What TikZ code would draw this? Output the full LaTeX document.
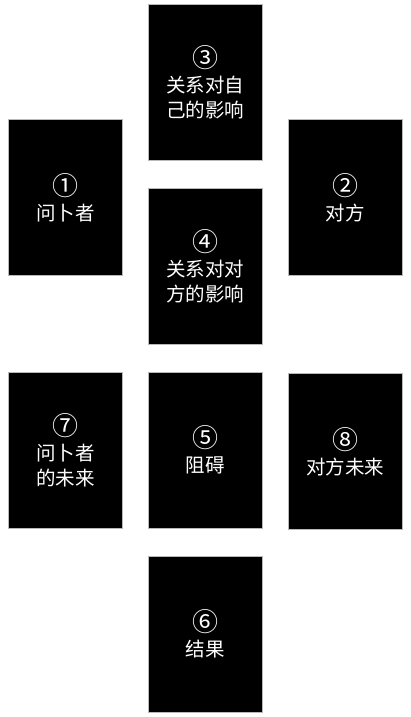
\documentclass[tikz,border=0pt]{standalone}
\usepackage{fontspec}
\setmainfont{Noto Sans CJK SC}
\newcommand{\cnum}[1]{\raisebox{0pt}{\fontsize{26}{25}\selectfont #1}}
\begin{document}
\begin{tikzpicture}[x=1pt,y=1pt,
  card/.style={fill=black, draw=gray!55, line width=0.6pt, text=white,
    minimum width=114pt, minimum height=156pt, inner sep=0pt,
    align=center, font=\fontsize{19.5}{25}\selectfont}]
\useasboundingbox (0,0) rectangle (410,717);
\fill[white] (0,0) rectangle (410,717);
\node[card] (c3) at (205.3,634.7) {\cnum{③}\\关系对自\\己的影响};
\node[card] (c1) at (65.7,519.3) {\cnum{①}\\问卜者};
\node[card] (c2) at (345.3,519.3) {\cnum{②}\\对方};
\node[card] (c4) at (205.3,450.7) {\cnum{④}\\关系对对\\方的影响};
\node[card] (c7) at (65.7,266.8) {\cnum{⑦}\\问卜者\\的未来};
\node[card] (c5) at (205.3,266.8) {\cnum{⑤}\\阻碍};
\node[card] (c8) at (345.3,265.5) {\cnum{⑧}\\对方未来};
\node[card] (c6) at (205.3,82.8) {\cnum{⑥}\\结果};
\end{tikzpicture}
\end{document}
